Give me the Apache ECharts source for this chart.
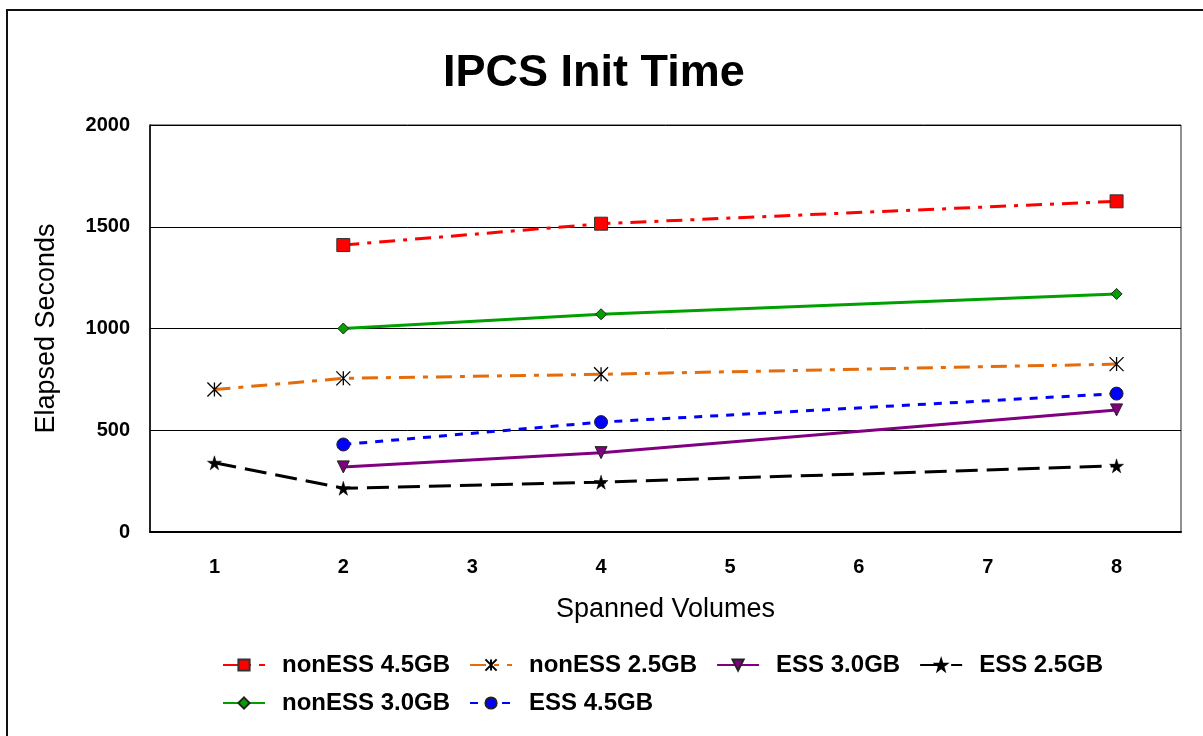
<!DOCTYPE html>
<html>
<head>
<meta charset="utf-8">
<script src="https://cdn.jsdelivr.net/npm/echarts@6/dist/echarts.min.js"></script>
<style>
html,body{margin:0;padding:0;background:#fff;}
#main{width:1203px;height:736px;}
</style>
</head>
<body>
<div id="main"></div>
<script>
const categories = ['1','2','3','4','5','6','7','8'];
const nonESS45 = [null, 1410, null, 1515, null, null, null, 1625];
const nonESS25 = [700, 755, null, 775, null, null, null, 825];
const ESS30 = [null, 320, null, 390, null, null, null, 600];
const ESS25 = [340, 215, null, 245, null, null, null, 325];
const nonESS30 = [null, 1000, null, 1070, null, null, null, 1170];
const ESS45 = [null, 430, null, 540, null, null, null, 680];
const yTicks = [0, 500, 1000, 1500, 2000];

const asterisk = 'path://M5,0L5,10M0,0L10,10M0,10L10,0M5,0L5,10';
const star = 'path://M50,0L61,35L98,35L68,57L79,91L50,70L21,91L32,57L2,35L39,35Z';
const font = 'Liberation Sans, Arial, sans-serif';

const chart = echarts.init(document.getElementById('main'));
function mk(name, data, color, type, width, symbol, size, fill, border, bw, rot) {
  return {
    name, type: 'line', data, connectNulls: true,
    symbol, symbolSize: size, symbolRotate: rot || 0,
    lineStyle: { color, type, width },
    itemStyle: { color: fill, borderColor: border, borderWidth: bw },
    emphasis: { disabled: true },
    z: 3
  };
}
const legendText = { fontSize: 24, fontWeight: 'bold', color: '#000', fontFamily: font, padding: [0, 0, 0, 12] };
chart.setOption({
  animation: false,
  backgroundColor: '#fff',
  textStyle: { fontFamily: font },
  graphic: [{
    type: 'rect', shape: { x: 7, y: 10, width: 1300, height: 800 },
    style: { fill: 'none', stroke: '#111', lineWidth: 2 }, z: -1
  }],
  title: {
    text: 'IPCS Init Time', left: 438, top: 46,
    textStyle: { fontSize: 45, fontWeight: 'bold', color: '#000', fontFamily: font }
  },
  grid: { left: 150, right: 22, top: 125, bottom: 204, show: true, borderColor: '#222', borderWidth: 1, containLabel: false },
  xAxis: {
    type: 'category', data: categories, boundaryGap: true,
    name: 'Spanned Volumes', nameLocation: 'middle', nameGap: 64,
    nameTextStyle: { fontSize: 27, color: '#000', fontFamily: font },
    axisLine: { lineStyle: { color: '#000', width: 2 } },
    axisTick: { show: false },
    axisLabel: { fontSize: 20, fontWeight: 'bold', color: '#000', margin: 25, fontFamily: font },
    splitLine: { show: false }
  },
  yAxis: {
    type: 'value', min: yTicks[0], max: yTicks[yTicks.length - 1], interval: 500,
    name: 'Elapsed Seconds', nameLocation: 'middle', nameGap: 90,
    nameTextStyle: { fontSize: 27, color: '#000', fontFamily: font },
    axisLine: { show: true, lineStyle: { color: '#000', width: 1.5 } },
    axisTick: { show: false },
    axisLabel: { fontSize: 20, fontWeight: 'bold', color: '#000', margin: 20, fontFamily: font, formatter: v => String(v) },
    splitLine: { lineStyle: { color: '#000', width: 1 } }
  },
  legend: [{
    data: ['nonESS 4.5GB', 'nonESS 2.5GB', 'ESS 3.0GB', 'ESS 2.5GB'],
    left: 222, top: 653, padding: 0, itemWidth: 42, itemHeight: 14, itemGap: 19,
    textStyle: legendText
  }, {
    data: ['nonESS 3.0GB', 'ESS 4.5GB'],
    left: 222, top: 691, padding: 0, itemWidth: 42, itemHeight: 14, itemGap: 19,
    textStyle: legendText
  }],
  series: [
    mk('nonESS 4.5GB', nonESS45, '#ff0000', [16, 8, 4, 8], 3, 'rect', 13, '#ff0000', '#333', 1),
    mk('nonESS 2.5GB', nonESS25, '#e46c0a', [16, 8, 5, 8], 3, asterisk, 14, '#000', '#000', 1.3),
    mk('ESS 3.0GB', ESS30, '#800080', 'solid', 3, 'triangle', 12, '#800080', '#222', 1, 180),
    mk('ESS 2.5GB', ESS25, '#000000', [22, 9], 3, star, 14, '#000', '#000', 0.5),
    mk('nonESS 3.0GB', nonESS30, '#00a000', 'solid', 3, 'diamond', 11, '#00a000', '#222', 1),
    mk('ESS 4.5GB', ESS45, '#0000ff', [8, 8], 3, 'circle', 13, '#0000ff', '#222', 1)
  ]
});
</script>
</body>
</html>
